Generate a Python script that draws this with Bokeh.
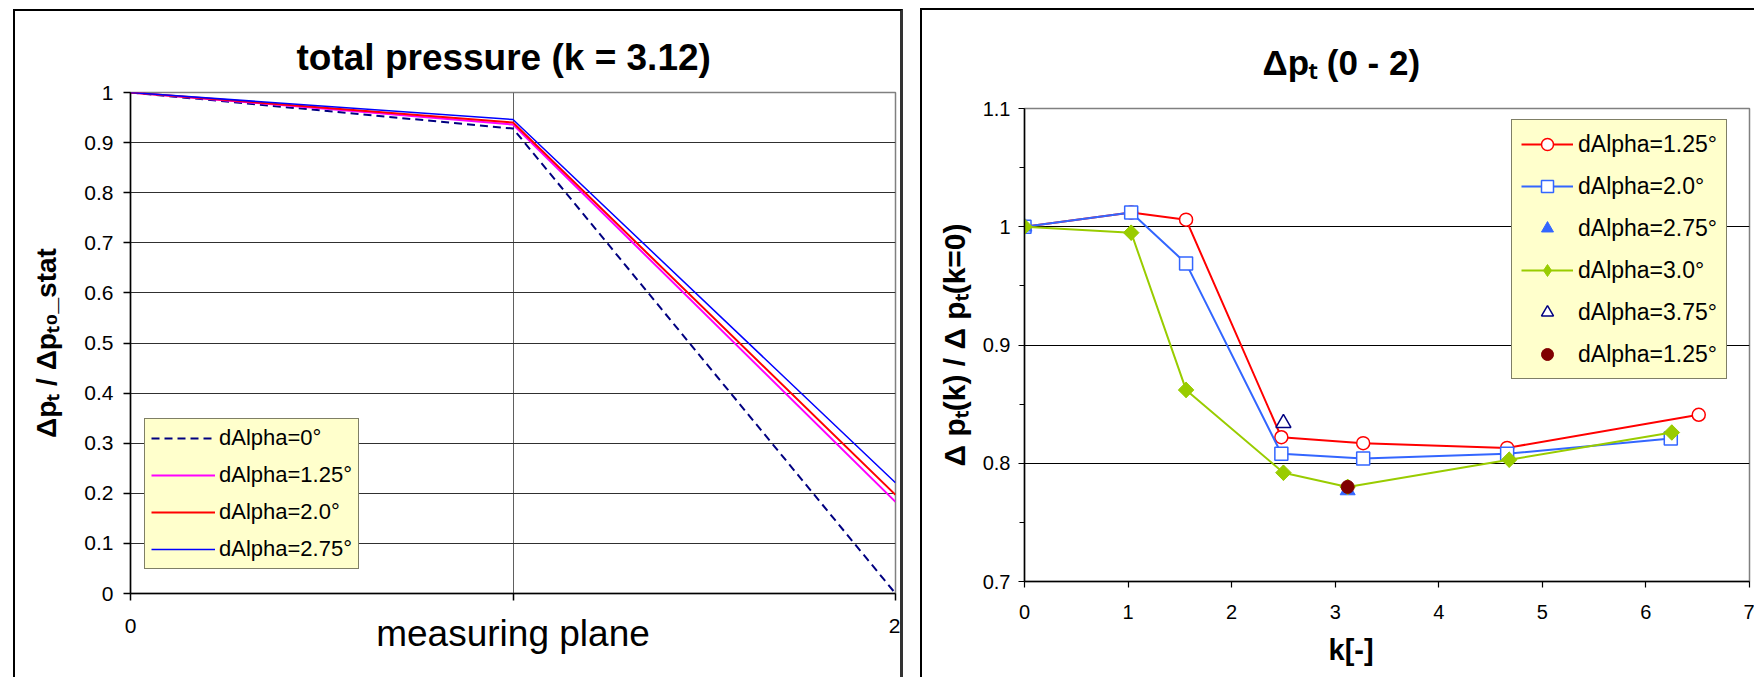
import math
from bokeh.plotting import figure
from bokeh.layouts import row, column
from bokeh.models import (FixedTicker, CustomJSTickFormatter, Legend,
                          LegendItem, Range1d, Title)
from bokeh.embed import file_html
from bokeh.resources import INLINE

FONT = "Liberation Sans"

# ---------------- left chart data ----------------
plane_x = [0, 1, 2]
plane_tick_labels = ["0", "", "2"]
left_y_ticks = [0, 0.1, 0.2, 0.3, 0.4, 0.5, 0.6, 0.7, 0.8, 0.9, 1.0]
pt_dalpha_0 = [1.0, 0.928, 0.0]
pt_dalpha_125 = [1.0, 0.936, 0.183]
pt_dalpha_200 = [1.0, 0.940, 0.197]
pt_dalpha_275 = [1.0, 0.946, 0.221]
left_names = ["dAlpha=0°", "dAlpha=1.25°", "dAlpha=2.0°", "dAlpha=2.75°"]

# ---------------- right chart data ----------------
right_x_ticks = [0, 1, 2, 3, 4, 5, 6, 7]
right_y_ticks = [0.7, 0.8, 0.9, 1.0, 1.1]
right_y_minor = [0.75, 0.85, 0.95, 1.05]
k_125 = [0, 1.03, 1.56, 2.48, 3.27, 4.66, 6.51]
dp_125 = [1.0, 1.012, 1.006, 0.822, 0.817, 0.813, 0.841]
k_200 = [0, 1.03, 1.56, 2.48, 3.27, 4.66, 6.24]
dp_200 = [1.0, 1.012, 0.969, 0.808, 0.804, 0.808, 0.821]
k_275 = [0, 3.12]
dp_275 = [1.0, 0.777]
k_300 = [0, 1.03, 1.56, 2.50, 3.12, 4.68, 6.25]
dp_300 = [1.0, 0.995, 0.862, 0.792, 0.780, 0.803, 0.826]
k_375 = [2.50]
dp_375 = [0.834]
k_125b = [3.12]
dp_125b = [0.780]
right_names = ["dAlpha=1.25°", "dAlpha=2.0°", "dAlpha=2.75°", "dAlpha=3.0°",
               "dAlpha=3.75°", "dAlpha=1.25°"]

fmt_js = "var v = Math.round(tick*100)/100; return v.toString();"

# =============== LEFT FIGURE ===============
p1 = figure(width=885, height=666, x_range=Range1d(0, 2), y_range=Range1d(0, 1),
            output_backend="svg", toolbar_location=None,
            min_border_left=115, min_border_right=5, min_border_top=81,
            min_border_bottom=84)
p1.title.text = "total pressure (k = 3.12)"
p1.title.align = "left"
p1.title.offset = 166
p1.title.standoff = 30
p1.title.text_font = FONT
p1.title.text_font_size = "37px"
p1.title.text_font_style = "bold"
p1.title.text_color = "black"

p1.outline_line_color = "#808080"
p1.outline_line_width = 1.5
p1.xaxis.ticker = FixedTicker(ticks=plane_x)
p1.xaxis.formatter = CustomJSTickFormatter(
    args=dict(labs=plane_tick_labels, tv=plane_x),
    code="var i = tv.indexOf(Math.round(tick)); return i >= 0 ? labs[i] : '';")
p1.yaxis.ticker = FixedTicker(ticks=left_y_ticks)
p1.yaxis.formatter = CustomJSTickFormatter(code=fmt_js)
for ax in (p1.xaxis, p1.yaxis):
    ax.axis_line_color = "black"
    ax.axis_line_width = 1.5
    ax.major_tick_line_color = "black"
    ax.major_tick_line_width = 1.5
    ax.major_tick_in = 0
    ax.major_tick_out = 7
    ax.minor_tick_line_color = None
    ax.major_label_text_font = FONT
    ax.major_label_text_font_size = "21px"
    ax.major_label_text_color = "black"
    ax.axis_label_text_font = FONT
    ax.axis_label_text_color = "black"
p1.yaxis.major_label_standoff = 10
p1.xaxis.major_label_standoff = 18
p1.yaxis.axis_label = "Δpₜ / Δpₜ₀_stat"
p1.yaxis.axis_label_text_font_size = "28px"
p1.yaxis.axis_label_text_font_style = "bold"
p1.yaxis.axis_label_standoff = 19
p1.xaxis.axis_label = "measuring plane"
p1.xaxis.axis_label_text_font_size = "37px"
p1.xaxis.axis_label_text_font_style = "normal"
p1.xaxis.axis_label_standoff = -23
p1.xgrid.ticker = FixedTicker(ticks=plane_x)
p1.ygrid.ticker = FixedTicker(ticks=left_y_ticks)
p1.xgrid.grid_line_color = "#606060"
p1.ygrid.grid_line_color = "#303030"
p1.xgrid.grid_line_width = 1
p1.ygrid.grid_line_width = 1

l0 = p1.line(plane_x, pt_dalpha_0, line_color="#000080", line_width=2, line_dash="8 5")
l1 = p1.line(plane_x, pt_dalpha_125, line_color="#FF00FF", line_width=2)
l2 = p1.line(plane_x, pt_dalpha_200, line_color="#FF0000", line_width=2)
l3 = p1.line(plane_x, pt_dalpha_275, line_color="#0000FF", line_width=1.5)

leg1 = Legend(items=[LegendItem(label=n, renderers=[r])
                     for n, r in zip(left_names, [l0, l1, l2, l3])],
              location=(14, 24))
leg1.background_fill_color = "#FFFFCC"
leg1.background_fill_alpha = 1
leg1.border_line_color = "black"
leg1.border_line_width = 1
leg1.label_text_font = FONT
leg1.label_text_font_size = "22px"
leg1.label_text_color = "black"
leg1.glyph_width = 64
leg1.glyph_height = 20
leg1.label_height = 20
leg1.label_standoff = 4
leg1.padding = 6
leg1.spacing = 11
leg1.margin = 0
p1.add_layout(leg1)

# =============== RIGHT FIGURE ===============
p2 = figure(width=832, height=667, x_range=Range1d(0, 7), y_range=Range1d(0.7, 1.1),
            output_backend="svg", toolbar_location=None,
            min_border_left=102, min_border_right=5, min_border_top=98,
            min_border_bottom=96)
p2.title.text = "Δpₜ (0 - 2)"
p2.title.align = "left"
p2.title.offset = 238
p2.title.standoff = 54
p2.title.text_font = FONT
p2.title.text_font_size = "35px"
p2.title.text_font_style = "bold"
p2.title.text_color = "black"

p2.outline_line_color = "#808080"
p2.outline_line_width = 1.5
p2.xaxis.ticker = FixedTicker(ticks=right_x_ticks)
p2.yaxis.ticker = FixedTicker(ticks=right_y_ticks, minor_ticks=right_y_minor)
p2.xaxis.formatter = CustomJSTickFormatter(code=fmt_js)
p2.yaxis.formatter = CustomJSTickFormatter(code=fmt_js)
for ax in (p2.xaxis, p2.yaxis):
    ax.axis_line_color = "black"
    ax.axis_line_width = 1.5
    ax.major_tick_line_color = "black"
    ax.major_tick_line_width = 1.2
    ax.major_tick_in = 0
    ax.major_tick_out = 6
    ax.major_label_text_font = FONT
    ax.major_label_text_font_size = "20px"
    ax.major_label_text_color = "black"
p2.xaxis.minor_tick_line_color = None
p2.yaxis.minor_tick_line_color = "black"
p2.yaxis.minor_tick_line_width = 1.2
p2.yaxis.minor_tick_in = 0
p2.yaxis.minor_tick_out = 5
p2.yaxis.major_label_standoff = 8
p2.xaxis.major_label_standoff = 17
p2.yaxis.axis_label = "Δ pₜ(k) / Δ pₜ(k=0)"
p2.yaxis.axis_label_text_font = FONT
p2.yaxis.axis_label_text_font_size = "30px"
p2.yaxis.axis_label_text_font_style = "bold"
p2.yaxis.axis_label_text_color = "black"
p2.yaxis.axis_label_standoff = 9
p2.xgrid.grid_line_color = None
p2.ygrid.ticker = FixedTicker(ticks=right_y_ticks)
p2.ygrid.grid_line_color = "black"
p2.ygrid.grid_line_width = 1

p2.add_layout(Title(text="k[-]", align="left", offset=304, standoff=20,
                    text_font=FONT, text_font_size="29px", text_font_style="bold",
                    text_color="black"),
              "below")

RED, BLUE, GREEN, NAVY, DRED = "#FF0000", "#3366FF", "#99CC00", "#000080", "#800000"
ra = p2.line(k_125, dp_125, line_color=RED, line_width=2)
rb = p2.scatter(k_125, dp_125, marker="circle", size=13, line_color=RED,
                fill_color="white", line_width=1.5)
ba = p2.line(k_200, dp_200, line_color=BLUE, line_width=2)
bb = p2.scatter(k_200, dp_200, marker="square", size=13, line_color=BLUE,
                fill_color="white", line_width=1.5)
tb = p2.scatter(k_275, dp_275, marker="triangle", size=15, line_color=BLUE,
                fill_color=BLUE)
ga = p2.line(k_300, dp_300, line_color=GREEN, line_width=2)
# diamond glyph (used for the legend), covered by the rotated-square markers
gl = p2.scatter(k_300, dp_300, marker="diamond", size=15, line_color=GREEN,
                fill_color=GREEN)
gb = p2.scatter(k_300, dp_300, marker="square", angle=math.pi / 4, size=11,
                line_color=GREEN, fill_color=GREEN)
ob = p2.scatter(k_375, dp_375, marker="triangle", size=15, line_color=NAVY,
                fill_color="white", line_width=1.5)
db = p2.scatter(k_125b, dp_125b, marker="circle", size=13, line_color=DRED,
                fill_color=DRED)

leg2 = Legend(items=[LegendItem(label=right_names[0], renderers=[ra, rb]),
                     LegendItem(label=right_names[1], renderers=[ba, bb]),
                     LegendItem(label=right_names[2], renderers=[tb]),
                     LegendItem(label=right_names[3], renderers=[ga, gl]),
                     LegendItem(label=right_names[4], renderers=[ob]),
                     LegendItem(label=right_names[5], renderers=[db])],
              location=(487, 202))
leg2.background_fill_color = "#FFFFCC"
leg2.background_fill_alpha = 1
leg2.border_line_color = "black"
leg2.border_line_width = 1
leg2.label_text_font = FONT
leg2.label_text_font_size = "23px"
leg2.label_text_color = "black"
leg2.glyph_width = 52
leg2.glyph_height = 30
leg2.label_height = 30
leg2.label_standoff = 5
leg2.padding = 9
leg2.spacing = 12
leg2.margin = 0
p2.add_layout(leg2)

left_panel = column(p1, margin=(9, 0, 0, 13),
                    styles={"border-left": "2px solid black",
                            "border-top": "2px solid black",
                            "border-right": "3px solid #333333"})
right_panel = column(p2, margin=(8, 0, 0, 17),
                     styles={"border-left": "2px solid black",
                             "border-top": "2px solid black"})
layout = row(left_panel, right_panel)
open("out.html", "w").write(file_html(layout, INLINE, "charts"))
